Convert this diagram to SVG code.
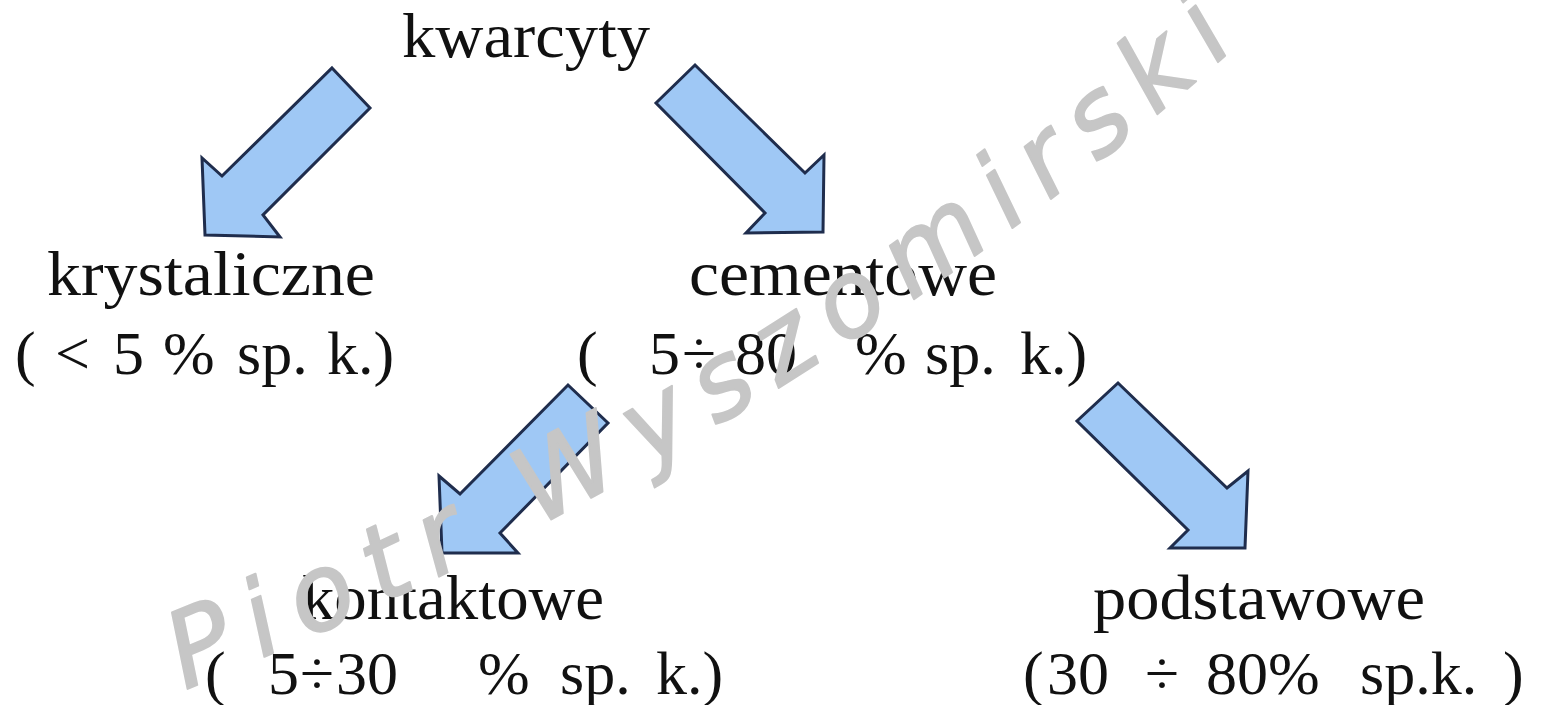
<svg xmlns="http://www.w3.org/2000/svg" width="1548" height="705" viewBox="0 0 1548 705">
<style>
.t{font-family:"Liberation Serif","Times New Roman",serif;fill:#111;}
.w{font-size:64px;}
.p{font-size:62px;}
.arr{fill:#9fc8f5;stroke:#1f2d4d;stroke-width:3;stroke-linejoin:miter;}
.wm{font-family:"DejaVu Sans",sans-serif;font-style:oblique;font-size:105px;fill:#c6c6c6;stroke:#c6c6c6;stroke-width:2;stroke-linejoin:round;}
</style>
<defs>
<path id="wmpath" d="M185,690 Q800,440 1260,25"/>
</defs>
<rect width="1548" height="705" fill="#ffffff"/>
<g id="connectors">
<polygon class="arr" points="332,68 370,108 263,215 280,237 205,235 202,158 222,176"/>
<polygon class="arr" points="695,65 805,173 824,155 823,232 746,233 765,213 656,103"/>
<polygon class="arr" points="568,385 608,423 500,533 518,553 442,553 439,476 460,494"/>
<polygon class="arr" points="1118,383 1227,488 1248,471 1245,548 1170,548 1188,530 1077,421"/>
</g>
<g id="n-kwarcyty">
<text class="t w" x="402" y="57" textLength="248" lengthAdjust="spacingAndGlyphs">kwarcyty</text>
</g>
<g id="n-krystaliczne">
<text class="t w" x="47" y="295" textLength="328" lengthAdjust="spacingAndGlyphs">krystaliczne</text>
<text class="t p" y="374"><tspan x="15">(</tspan><tspan x="55">&lt;</tspan><tspan x="113">5</tspan><tspan x="163">%</tspan><tspan x="237">sp.</tspan><tspan x="327">k.)</tspan></text>
</g>
<g id="n-cementowe">
<text class="t w" x="689" y="295" textLength="308" lengthAdjust="spacingAndGlyphs">cementowe</text>
<text class="t p" y="374"><tspan x="577">(</tspan><tspan x="649">5</tspan><tspan x="682">÷</tspan><tspan x="735">80</tspan><tspan x="855">%</tspan><tspan x="925">sp.</tspan><tspan x="1020">k.)</tspan></text>
</g>
<g id="n-kontaktowe">
<text class="t w" x="302" y="619" textLength="302" lengthAdjust="spacingAndGlyphs">kontaktowe</text>
<text class="t p" y="694"><tspan x="205">(</tspan><tspan x="268">5</tspan><tspan x="300">÷</tspan><tspan x="336">30</tspan><tspan x="478">%</tspan><tspan x="560">sp.</tspan><tspan x="656">k.)</tspan></text>
</g>
<g id="n-podstawowe">
<text class="t w" x="1093" y="619" textLength="332" lengthAdjust="spacingAndGlyphs">podstawowe</text>
<text class="t p" y="694"><tspan x="1023">(</tspan><tspan x="1047">30</tspan><tspan x="1145">÷</tspan><tspan x="1206">80%</tspan><tspan x="1360">sp.k.</tspan><tspan x="1503">)</tspan></text>
</g>
<g id="watermark">
<text class="wm"><textPath href="#wmpath" textLength="1240" lengthAdjust="spacing">Piotr Wyszomirski</textPath></text>
</g>
</svg>
